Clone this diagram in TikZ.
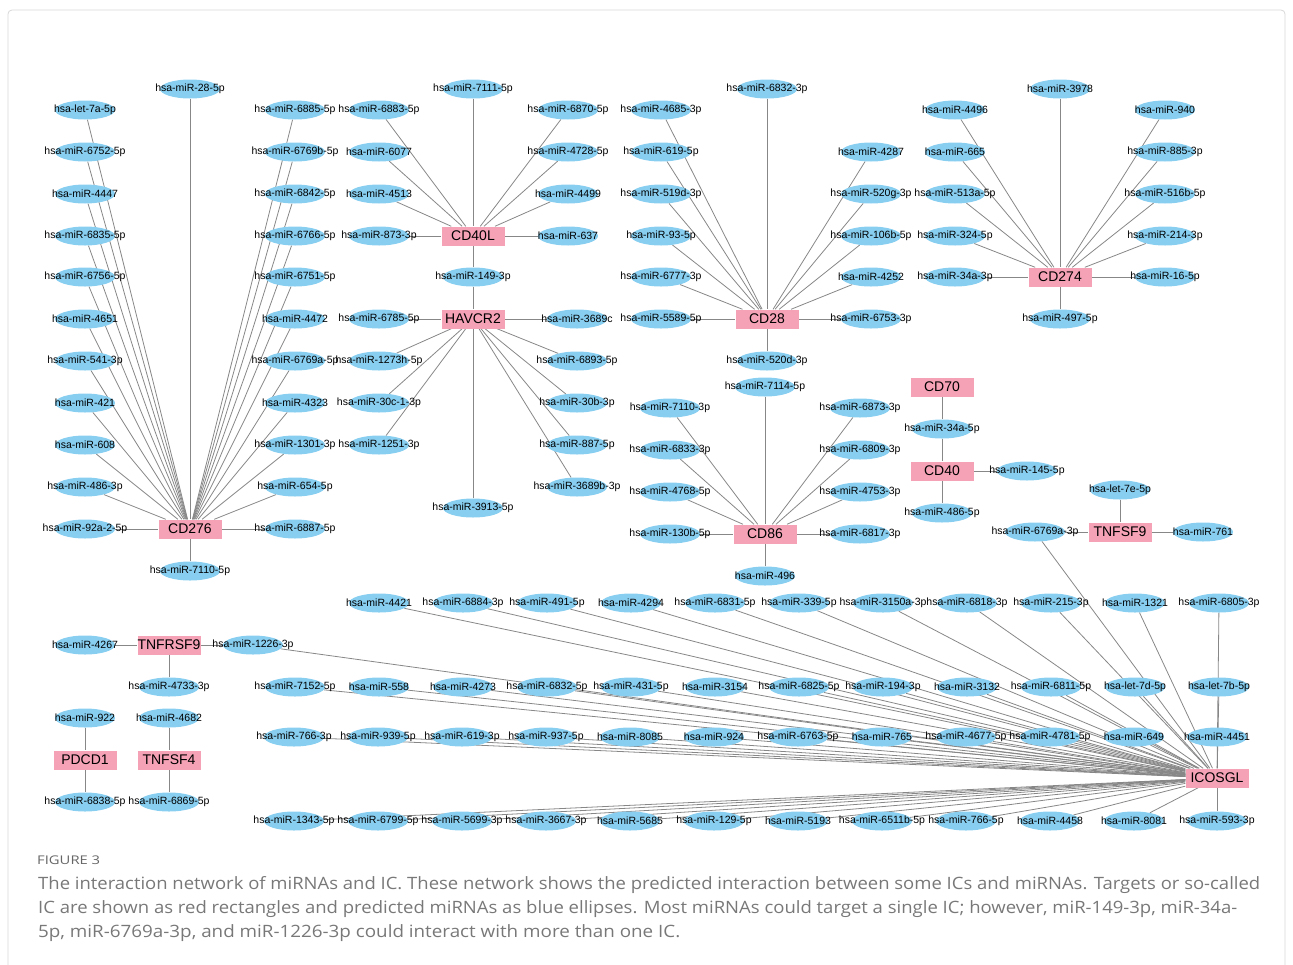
\documentclass[tikz,border=0pt]{standalone}
\usepackage{fontspec}
\usepackage{graphicx}
\setmainfont{Liberation Sans}
\newfontfamily\capfont{Open Sans}
\usetikzlibrary{shapes.geometric}
\definecolor{mirblue}{RGB}{135,206,240}
\definecolor{icpink}{RGB}{245,162,182}
\definecolor{edgegray}{RGB}{135,135,135}
\definecolor{capgray}{RGB}{120,120,120}
\definecolor{framegray}{RGB}{215,215,215}
\pgfdeclarelayer{bg}
\pgfsetlayers{bg,main}
\begin{document}
\begin{tikzpicture}[x=1pt,y=-1pt,
  mir/.style={ellipse, fill=mirblue, draw=none, minimum width=60pt, minimum height=19pt, inner sep=0pt,
    font=\fontsize{10.5}{12}\selectfont,
    execute at begin node={\hbox to 0pt\bgroup\hss}, execute at end node={\hss\egroup}},
  ic/.style={rectangle, fill=icpink, draw=none, minimum width=63pt, minimum height=19pt, inner sep=0pt,
    font=\fontsize{14}{16}\selectfont},
  edge/.style={draw=edgegray, line width=0.8pt},
  captext/.style={anchor=base west, inner sep=0pt, text=capgray}]
\useasboundingbox (0,0) rectangle (1293,964);
\draw[framegray, line width=0.8pt, rounded corners=4pt] (8,975) -- (8,10) -- (1285,10) -- (1285,975);

% ---------- CD276 ----------
\node[ic] (CD276) at (190,529) {CD276};
\node[mir] (m28) at (190,89) {hsa-miR-28-5p};
\node[mir] (m7110a) at (190,571) {hsa-miR-7110-5p};
\node[mir] (let7a) at (85,110) {hsa-let-7a-5p};
\node[mir] (m6752) at (85,152) {hsa-miR-6752-5p};
\node[mir] (m4447) at (85,194) {hsa-miR-4447};
\node[mir] (m6835) at (85,236) {hsa-miR-6835-5p};
\node[mir] (m6756) at (85,277) {hsa-miR-6756-5p};
\node[mir] (m4651) at (85,319) {hsa-miR-4651};
\node[mir] (m541) at (85,361) {hsa-miR-541-3p};
\node[mir] (m421) at (85,403) {hsa-miR-421};
\node[mir] (m608) at (85,445) {hsa-miR-608};
\node[mir] (m486a) at (85,487) {hsa-miR-486-3p};
\node[mir] (m92a) at (85,529) {hsa-miR-92a-2-5p};
\node[mir] (m6885) at (295,110) {hsa-miR-6885-5p};
\node[mir] (m6769b) at (295,152) {hsa-miR-6769b-5p};
\node[mir] (m6842) at (295,194) {hsa-miR-6842-5p};
\node[mir] (m6766) at (295,236) {hsa-miR-6766-5p};
\node[mir] (m6751) at (295,277) {hsa-miR-6751-5p};
\node[mir] (m4472) at (295,319) {hsa-miR-4472};
\node[mir] (m6769c) at (295,361) {hsa-miR-6769a-5p};
\node[mir] (m4323) at (295,403) {hsa-miR-4323};
\node[mir] (m1301) at (295,445) {hsa-miR-1301-3p};
\node[mir] (m654) at (295,487) {hsa-miR-654-5p};
\node[mir] (m6887) at (295,529) {hsa-miR-6887-5p};

% ---------- CD40L / HAVCR2 ----------
\node[ic] (CD40L) at (473,236) {CD40L};
\node[ic] (HAVCR2) at (473,319) {HAVCR2};
\node[mir] (m7111) at (473,89) {hsa-miR-7111-5p};
\node[mir] (m6883) at (379,110) {hsa-miR-6883-5p};
\node[mir] (m6077) at (379,152) {hsa-miR-6077};
\node[mir] (m4513) at (379,194) {hsa-miR-4513};
\node[mir] (m873) at (379,236) {hsa-miR-873-3p};
\node[mir] (m6870) at (568,110) {hsa-miR-6870-5p};
\node[mir] (m4728) at (568,152) {hsa-miR-4728-5p};
\node[mir] (m4499) at (568,194) {hsa-miR-4499};
\node[mir] (m637) at (568,236) {hsa-miR-637};
\node[mir] (m149) at (473,277) {hsa-miR-149-3p};
\node[mir] (m6785) at (379,319) {hsa-miR-6785-5p};
\node[mir] (m1273h) at (379,361) {hsa-miR-1273h-5p};
\node[mir] (m30c) at (379,403) {hsa-miR-30c-1-3p};
\node[mir] (m1251) at (379,445) {hsa-miR-1251-3p};
\node[mir] (m3689c) at (577,319) {hsa-miR-3689c};
\node[mir] (m6893) at (577,361) {hsa-miR-6893-5p};
\node[mir] (m30b) at (577,403) {hsa-miR-30b-3p};
\node[mir] (m887) at (577,445) {hsa-miR-887-5p};
\node[mir] (m3689b) at (577,487) {hsa-miR-3689b-3p};
\node[mir] (m3913) at (473,508) {hsa-miR-3913-5p};

% ---------- CD28 ----------
\node[ic] (CD28) at (767,319) {CD28};
\node[mir] (m6832a) at (767,89) {hsa-miR-6832-3p};
\node[mir] (m4685) at (661,110) {hsa-miR-4685-3p};
\node[mir] (m619a) at (661,152) {hsa-miR-619-5p};
\node[mir] (m519d) at (661,194) {hsa-miR-519d-3p};
\node[mir] (m93) at (661,236) {hsa-miR-93-5p};
\node[mir] (m6777) at (661,277) {hsa-miR-6777-3p};
\node[mir] (m5589) at (661,319) {hsa-miR-5589-5p};
\node[mir] (m4287) at (871,152) {hsa-miR-4287};
\node[mir] (m520g) at (871,194) {hsa-miR-520g-3p};
\node[mir] (m106b) at (871,236) {hsa-miR-106b-5p};
\node[mir] (m4252) at (871,277) {hsa-miR-4252};
\node[mir] (m6753) at (871,319) {hsa-miR-6753-3p};
\node[mir] (m520d) at (767,361) {hsa-miR-520d-3p};

% ---------- CD274 ----------
\node[ic] (CD274) at (1060,277) {CD274};
\node[mir] (m3978) at (1060,89) {hsa-miR-3978};
\node[mir] (m4496) at (955,110) {hsa-miR-4496};
\node[mir] (m665) at (955,152) {hsa-miR-665};
\node[mir] (m513a) at (955,194) {hsa-miR-513a-5p};
\node[mir] (m324) at (955,236) {hsa-miR-324-5p};
\node[mir] (m34b) at (955,277) {hsa-miR-34a-3p};
\node[mir] (m940) at (1165,110) {hsa-miR-940};
\node[mir] (m885) at (1165,152) {hsa-miR-885-3p};
\node[mir] (m516b) at (1165,194) {hsa-miR-516b-5p};
\node[mir] (m214) at (1165,236) {hsa-miR-214-3p};
\node[mir] (m16) at (1165,277) {hsa-miR-16-5p};
\node[mir] (m497) at (1060,319) {hsa-miR-497-5p};

% ---------- CD86 ----------
\node[ic] (CD86) at (765,534) {CD86};
\node[mir] (m7114) at (765,387) {hsa-miR-7114-5p};
\node[mir] (m7110b) at (670,408) {hsa-miR-7110-3p};
\node[mir] (m6833) at (670,450) {hsa-miR-6833-3p};
\node[mir] (m4768) at (670,492) {hsa-miR-4768-5p};
\node[mir] (m130b) at (670,534) {hsa-miR-130b-5p};
\node[mir] (m6873) at (860,408) {hsa-miR-6873-3p};
\node[mir] (m6809) at (860,450) {hsa-miR-6809-3p};
\node[mir] (m4753) at (860,492) {hsa-miR-4753-3p};
\node[mir] (m6817) at (860,534) {hsa-miR-6817-3p};
\node[mir] (m496) at (765,576) {hsa-miR-496};

% ---------- CD70 / CD40 ----------
\node[ic] (CD70) at (942,387) {CD70};
\node[mir] (m34a) at (942,429) {hsa-miR-34a-5p};
\node[ic] (CD40) at (942,471) {CD40};
\node[mir] (m145) at (1027,471) {hsa-miR-145-5p};
\node[mir] (m486b) at (942,513) {hsa-miR-486-5p};

% ---------- TNFSF9 ----------
\node[ic] (TNFSF9) at (1120,532) {TNFSF9};
\node[mir] (let7e) at (1120,490) {hsa-let-7e-5p};
\node[mir] (m761) at (1203,532) {hsa-miR-761};
\node[mir] (m6769a) at (1035,532) {hsa-miR-6769a-3p};

% ---------- TNFRSF9, PDCD1, TNFSF4 ----------
\node[ic] (TNFRSF9) at (169,645) {TNFRSF9};
\node[mir] (m4267) at (85,645) {hsa-miR-4267};
\node[mir] (m1226) at (253,645) {hsa-miR-1226-3p};
\node[mir] (m4733) at (169,687) {hsa-miR-4733-3p};
\node[ic] (PDCD1) at (85,760) {PDCD1};
\node[mir] (m922) at (85,718) {hsa-miR-922};
\node[mir] (m6838) at (85,802) {hsa-miR-6838-5p};
\node[ic] (TNFSF4) at (169,760) {TNFSF4};
\node[mir] (m4682) at (169,718) {hsa-miR-4682};
\node[mir] (m6869) at (169,802) {hsa-miR-6869-5p};

% ---------- ICOSGL ----------
\node[ic] (ICOSGL) at (1217,778) {ICOSGL};
% row 602
\node[mir] (m4421) at (379,603) {hsa-miR-4421};
\node[mir] (m6884) at (463,603) {hsa-miR-6884-3p};
\node[mir] (m491) at (547,603) {hsa-miR-491-5p};
\node[mir] (m4294) at (631,603) {hsa-miR-4294};
\node[mir] (m6831) at (715,603) {hsa-miR-6831-5p};
\node[mir] (m339) at (799,603) {hsa-miR-339-5p};
\node[mir] (m3150a) at (883,603) {hsa-miR-3150a-3p};
\node[mir] (m6818) at (967,603) {hsa-miR-6818-3p};
\node[mir] (m215) at (1051,603) {hsa-miR-215-3p};
\node[mir] (m1321) at (1135,603) {hsa-miR-1321};
\node[mir] (m6805) at (1219,603) {hsa-miR-6805-3p};
% row 686
\node[mir] (m7152) at (295,687) {hsa-miR-7152-5p};
\node[mir] (m558) at (379,687) {hsa-miR-558};
\node[mir] (m4273) at (463,687) {hsa-miR-4273};
\node[mir] (m6832b) at (547,687) {hsa-miR-6832-5p};
\node[mir] (m431) at (631,687) {hsa-miR-431-5p};
\node[mir] (m3154) at (715,687) {hsa-miR-3154};
\node[mir] (m6825) at (799,687) {hsa-miR-6825-5p};
\node[mir] (m194) at (883,687) {hsa-miR-194-3p};
\node[mir] (m3132) at (967,687) {hsa-miR-3132};
\node[mir] (m6811) at (1051,687) {hsa-miR-6811-5p};
\node[mir] (let7d) at (1135,687) {hsa-let-7d-5p};
\node[mir] (let7b) at (1219,687) {hsa-let-7b-5p};
% row 736
\node[mir] (m766a) at (294,737) {hsa-miR-766-3p};
\node[mir] (m939) at (378,737) {hsa-miR-939-5p};
\node[mir] (m619b) at (462,737) {hsa-miR-619-3p};
\node[mir] (m937) at (546,737) {hsa-miR-937-5p};
\node[mir] (m8085) at (630,737) {hsa-miR-8085};
\node[mir] (m924) at (714,737) {hsa-miR-924};
\node[mir] (m6763) at (798,737) {hsa-miR-6763-5p};
\node[mir] (m765) at (882,737) {hsa-miR-765};
\node[mir] (m4677) at (966,737) {hsa-miR-4677-5p};
\node[mir] (m4781) at (1050,737) {hsa-miR-4781-5p};
\node[mir] (m649) at (1134,737) {hsa-miR-649};
\node[mir] (m4451) at (1217,737) {hsa-miR-4451};
% row 820
\node[mir] (m1343) at (294,821) {hsa-miR-1343-5p};
\node[mir] (m6799) at (378,821) {hsa-miR-6799-5p};
\node[mir] (m5699) at (462,821) {hsa-miR-5699-3p};
\node[mir] (m3667) at (546,821) {hsa-miR-3667-3p};
\node[mir] (m5685) at (630,821) {hsa-miR-5685};
\node[mir] (m129) at (714,821) {hsa-miR-129-5p};
\node[mir] (m5193) at (798,821) {hsa-miR-5193};
\node[mir] (m6511b) at (882,821) {hsa-miR-6511b-5p};
\node[mir] (m766b) at (966,821) {hsa-miR-766-5p};
\node[mir] (m4458) at (1050,821) {hsa-miR-4458};
\node[mir] (m8081) at (1134,821) {hsa-miR-8081};
\node[mir] (m593) at (1217,821) {hsa-miR-593-3p};

% ---------- edges ----------
\begin{pgfonlayer}{bg}
\foreach \n in {m28,m7110a,let7a,m6752,m4447,m6835,m6756,m4651,m541,m421,m608,m486a,m92a,
  m6885,m6769b,m6842,m6766,m6751,m4472,m6769c,m4323,m1301,m654,m6887}
  \draw[edge] (\n) -- (CD276);
\foreach \n in {m7111,m6883,m6077,m4513,m873,m6870,m4728,m4499,m637,m149}
  \draw[edge] (\n) -- (CD40L);
\foreach \n in {m149,m6785,m1273h,m30c,m1251,m3689c,m6893,m30b,m887,m3689b,m3913}
  \draw[edge] (\n) -- (HAVCR2);
\foreach \n in {m6832a,m4685,m619a,m519d,m93,m6777,m5589,m4287,m520g,m106b,m4252,m6753,m520d}
  \draw[edge] (\n) -- (CD28);
\foreach \n in {m3978,m4496,m665,m513a,m324,m34b,m940,m885,m516b,m214,m16,m497}
  \draw[edge] (\n) -- (CD274);
\foreach \n in {m7114,m7110b,m6833,m4768,m130b,m6873,m6809,m4753,m6817,m496}
  \draw[edge] (\n) -- (CD86);
\draw[edge] (CD70) -- (m34a);
\draw[edge] (m34a) -- (CD40);
\draw[edge] (CD40) -- (m145);
\draw[edge] (CD40) -- (m486b);
\foreach \n in {let7e,m761,m6769a}
  \draw[edge] (\n) -- (TNFSF9);
\foreach \n in {m4267,m1226,m4733}
  \draw[edge] (\n) -- (TNFRSF9);
\draw[edge] (m922) -- (PDCD1);
\draw[edge] (PDCD1) -- (m6838);
\draw[edge] (m4682) -- (TNFSF4);
\draw[edge] (TNFSF4) -- (m6869);
\foreach \n in {m1226,m6769a,
  m4421,m6884,m491,m4294,m6831,m339,m3150a,m6818,m215,m1321,m6805,
  m7152,m558,m4273,m6832b,m431,m3154,m6825,m194,m3132,m6811,let7d,let7b,
  m766a,m939,m619b,m937,m8085,m924,m6763,m765,m4677,m4781,m649,m4451,
  m1343,m6799,m5699,m3667,m5685,m129,m5193,m6511b,m766b,m4458,m8081,m593}
  \draw[edge] (\n) -- (ICOSGL);
\end{pgfonlayer}

% ---------- caption ----------
\node[captext, text=capgray!85!black] (fig) at (37,864) {\resizebox{63pt}{\height}{\capfont\fontsize{12}{14}\selectfont FIGURE 3}};
\node[captext] (cap1) at (38,889) {\resizebox{1222pt}{\height}{\capfont\fontsize{17}{20}\selectfont The interaction network of miRNAs and IC. These network shows the predicted interaction between some ICs and miRNAs. Targets or so-called}};
\node[captext] (cap2) at (38,913) {\resizebox{1199pt}{\height}{\capfont\fontsize{17}{20}\selectfont IC are shown as red rectangles and predicted miRNAs as blue ellipses. Most miRNAs could target a single IC; however, miR-149-3p, miR-34a-}};
\node[captext] (cap3) at (38,937) {\resizebox{642pt}{\height}{\capfont\fontsize{17}{20}\selectfont 5p, miR-6769a-3p, and miR-1226-3p could interact with more than one IC.}};
\end{tikzpicture}
\end{document}
